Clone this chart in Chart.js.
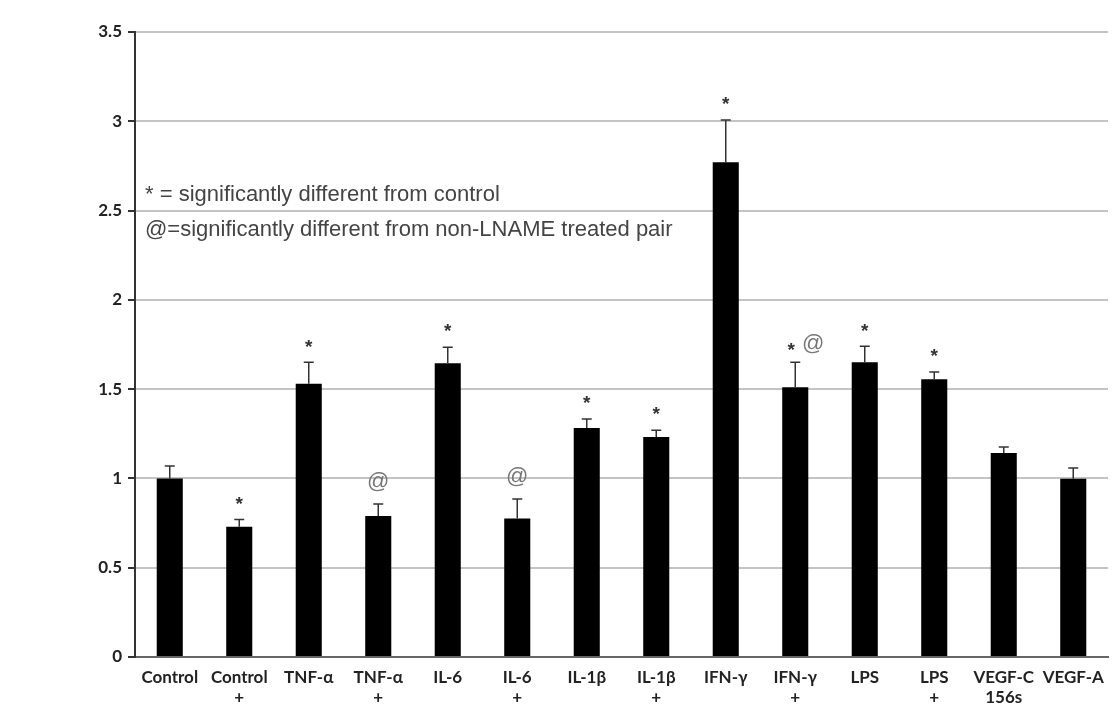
<!DOCTYPE html>
<html>
  <head>
    <title>Fold change</title>
    <script src="https://cdn.jsdelivr.net/npm/chart.js"></script>
    <style>
      body { margin: 0; background: #fff; }
      #wrap { width: 1116px; height: 707px; }
    </style>
  </head>
  <body>
    <div id="wrap"><canvas id="chart"></canvas></div>
    <script>
      // values
      const labels = [
        ["Control"], ["Control", "+"], ["TNF-\u03b1"], ["TNF-\u03b1", "+"],
        ["IL-6"], ["IL-6", "+"], ["IL-1\u03b2"], ["IL-1\u03b2", "+"],
        ["IFN-\u03b3"], ["IFN-\u03b3", "+"], ["LPS"], ["LPS", "+"],
        ["VEGF-C", "156s"], ["VEGF-A"]
      ];
      const means = [1.0, 0.73, 1.53, 0.79, 1.645, 0.775, 1.283, 1.232, 2.77, 1.51, 1.65, 1.556, 1.142, 0.998];
      const errors = [0.07, 0.04, 0.12, 0.067, 0.09, 0.11, 0.05, 0.038, 0.237, 0.14, 0.09, 0.04, 0.034, 0.06];
      const marks = ["", "*", "*", "@", "*", "@", "*", "*", "*", "* @", "*", "*", "", ""];
      const yTicks = [0, 0.5, 1, 1.5, 2, 2.5, 3, 3.5];
      const notes = [
        "* = significantly different from control",
        "@=significantly different from non-LNAME treated pair"
      ];

      const ctx = document.getElementById("chart").getContext("2d");

      const extras = {
        id: "extras",
        afterDatasetsDraw(chart) {
          const c = chart.ctx;
          const y = chart.scales.y;
          const meta = chart.getDatasetMeta(0);
          c.save();
          // error bars, upper half only
          c.strokeStyle = "#333";
          c.lineWidth = 1.5;
          meta.data.forEach((bar, i) => {
            const top = y.getPixelForValue(means[i] + errors[i]);
            c.beginPath();
            c.moveTo(bar.x, bar.y);
            c.lineTo(bar.x, top);
            c.moveTo(bar.x - 5, top);
            c.lineTo(bar.x + 5, top);
            c.stroke();
            // significance marks
            const m = marks[i];
            c.textAlign = "center";
            c.textBaseline = "middle";
            if (m == "*") {
              c.fillStyle = "#333";
              c.font = "bold 19px 'Liberation Sans'";
              c.fillText("*", bar.x, top - 15);
            } else if (m == "@") {
              c.font = "22px 'Liberation Sans'";
              c.fillStyle = "#777";
              c.fillText("@", bar.x, top - 22);
            } else if (m) {
              c.fillStyle = "#333";
              c.font = "bold 19px 'Liberation Sans'";
              c.fillText("*", bar.x - 4, top - 12);
              c.font = "22px 'Liberation Sans'";
              c.fillStyle = "#777";
              c.fillText("@", bar.x + 18, top - 18);
            }
          });
          // notes in the plot
          c.fillStyle = "#444";
          c.textAlign = "left";
          c.textBaseline = "middle";
          c.font = "22px 'Liberation Sans'";
          c.fillText(notes[0], chart.chartArea.left + 10, y.getPixelForValue(2.59));
          c.fillText(notes[1], chart.chartArea.left + 10, y.getPixelForValue(2.39));
          c.restore();
        }
      };

      new Chart(ctx, {
        type: "bar",
        data: {
          labels: labels,
          datasets: [
            {
              data: means,
              backgroundColor: "#000",
              borderWidth: 0,
              barPercentage: 0.375,
              categoryPercentage: 1.0
            }
          ]
        },
        options: {
          responsive: true,
          maintainAspectRatio: false,
          animation: false,
          layout: { padding: { top: 32, right: 8, left: 0, bottom: 0 } },
          plugins: { legend: { display: false }, tooltip: { enabled: false } },
          scales: {
            x: {
              grid: { display: false, drawTicks: false },
              border: { color: "#666", width: 2 },
              ticks: {
                color: "#222",
                padding: 11,
                font: { family: "Lato", weight: "bold", size: 17, lineHeight: 1.15 },
                maxRotation: 0,
                autoSkip: false
              },
              afterFit: (s) => { s.height = 50; }
            },
            y: {
              min: 0,
              max: 3.5,
              afterBuildTicks: (s) => { s.ticks = yTicks.map((v) => ({ value: v })); },
              grid: { color: "#c4c4c4", lineWidth: 2, tickColor: "#333", tickLength: 7 },
              border: { color: "#333", width: 2 },
              ticks: {
                color: "#222",
                padding: 6,
                font: { family: "Lato", weight: "bold", size: 17 },
                callback: (v) => String(v)
              },
              afterFit: (s) => { s.width = 135; }
            }
          }
        },
        plugins: [extras]
      });
    </script>
  </body>
</html>
